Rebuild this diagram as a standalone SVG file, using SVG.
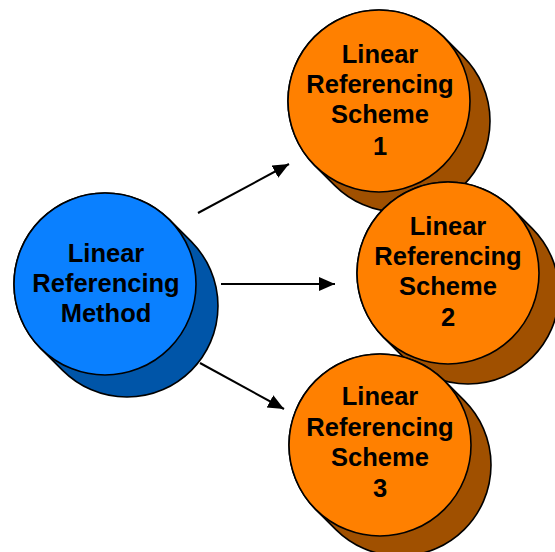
<svg xmlns="http://www.w3.org/2000/svg" width="555" height="552" viewBox="0 0 555 552">
<defs>
<marker id="ah" markerWidth="18" markerHeight="16" refX="16" refY="7" orient="auto" markerUnits="userSpaceOnUse">
<path d="M0,0 L16,7 L0,14 z" fill="#000"/>
</marker>
<style>
.edge{stroke:#000;stroke-width:2;fill:none}
.ol{stroke:#000;stroke-width:1.6;stroke-linejoin:round}
.bf{fill:#0A80FF}.bs{fill:#0055A8}
.of{fill:#FF8000}.os{fill:#A05000}
text{font-family:"Liberation Sans",Arial,sans-serif;font-weight:bold;font-size:25.5px;fill:#000;text-anchor:middle}
</style>
</defs>
<rect width="555" height="552" fill="#fff"/>
<g id="connectors">
<line class="edge" x1="198" y1="213" x2="289" y2="164" marker-end="url(#ah)"/>
<line class="edge" x1="221" y1="284" x2="335" y2="284" marker-end="url(#ah)"/>
<line class="edge" x1="200" y1="363" x2="284" y2="409" marker-end="url(#ah)"/>
</g>
<g id="method">
<path class="ol bs" d="M169.35,219.65 L191.35,241.65 A91,91 0 0 1 62.65,370.35 L40.65,348.35 A91,91 0 0 1 169.35,219.65 z"/>
<circle class="ol bf" cx="105" cy="284" r="91"/>
<text x="106" y="262">Linear</text>
<text x="106" y="292">Referencing</text>
<text x="106" y="322">Method</text>
</g>
<g id="scheme1">
<path class="ol os" d="M443.35,36.65 L463.35,56.65 A91,91 0 0 1 334.65,185.35 L314.65,165.35 A91,91 0 0 1 443.35,36.65 z"/>
<circle class="ol of" cx="379" cy="101" r="91"/>
<text x="380" y="63">Linear</text>
<text x="380" y="93">Referencing</text>
<text x="380" y="123">Scheme</text>
<text x="380" y="155">1</text>
</g>
<g id="scheme2">
<path class="ol os" d="M512.35,208.65 L532.35,228.65 A91,91 0 0 1 403.65,357.35 L383.65,337.35 A91,91 0 0 1 512.35,208.65 z"/>
<circle class="ol of" cx="448" cy="273" r="91"/>
<text x="448" y="235">Linear</text>
<text x="448" y="265">Referencing</text>
<text x="448" y="295">Scheme</text>
<text x="448" y="326">2</text>
</g>
<g id="scheme3">
<path class="ol os" d="M444.35,380.65 L464.35,400.65 A91,91 0 0 1 335.65,529.35 L315.65,509.35 A91,91 0 0 1 444.35,380.65 z"/>
<circle class="ol of" cx="380" cy="445" r="91"/>
<text x="380" y="405">Linear</text>
<text x="380" y="436">Referencing</text>
<text x="380" y="466">Scheme</text>
<text x="380" y="497">3</text>
</g>
</svg>
